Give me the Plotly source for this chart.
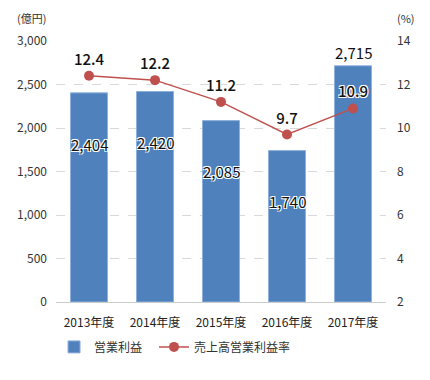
import plotly.graph_objects as go

categories = ["2013年度", "2014年度", "2015年度", "2016年度", "2017年度"]
operating_profit = [2404, 2420, 2085, 1740, 2715]
profit_margin = [12.4, 12.2, 11.2, 9.7, 10.9]
left_ticks = [0, 500, 1000, 1500, 2000, 2500, 3000]
right_ticks = [2, 4, 6, 8, 10, 12, 14]

FONT = "Noto Sans CJK JP"
BAR_COLOR = "#4f81bd"
LINE_COLOR = "#c0504d"
WHITE_OUTLINE = "1px 1px 0 #fff, -1px -1px 0 #fff, 1px -1px 0 #fff, -1px 1px 0 #fff"

fig = go.Figure()
fig.add_trace(go.Bar(
    x=categories, y=operating_profit, name="営業利益",
    marker=dict(color=BAR_COLOR, line=dict(color="#8db0dc", width=1)),
    yaxis="y", hoverinfo="skip", legend="legend",
))
fig.add_trace(go.Scatter(
    x=categories, y=profit_margin, name="売上高営業利益率",
    mode="lines+markers+text",
    line=dict(color=LINE_COLOR, width=1.5),
    marker=dict(color=LINE_COLOR, size=10),
    text=[f"{v:.1f}" for v in profit_margin],
    textposition="top center",
    textfont=dict(family=FONT, size=15, color="#111", weight=500, shadow=WHITE_OUTLINE),
    yaxis="y2", hoverinfo="skip", cliponaxis=False, legend="legend2",
))

# bar value labels
for i, (c, v) in enumerate(zip(categories, operating_profit)):
    if i == len(categories) - 1:
        ypos, anchor = v, "bottom"
    else:
        ypos, anchor = v - 590, "middle"
    fig.add_annotation(
        x=c, y=ypos, xref="x", yref="y", text=f"{v:,}", showarrow=False,
        yanchor=anchor, yshift=1 if anchor == "bottom" else 0,
        font=dict(family=FONT, size=15, color="#111", shadow=WHITE_OUTLINE),
    )

fig.add_annotation(x=-0.024, y=1.088, xref="paper", yref="paper", text="(億円)",
                   showarrow=False, xanchor="right", yanchor="middle",
                   font=dict(family=FONT, size=11, color="#333"))
fig.add_annotation(x=1.027, y=1.088, xref="paper", yref="paper", text="(%)",
                   showarrow=False, xanchor="left", yanchor="middle",
                   font=dict(family=FONT, size=11, color="#333"))

legend_common = dict(orientation="h", y=-0.172, xanchor="left", yanchor="middle",
                     font=dict(family=FONT, size=12, color="#333"),
                     itemwidth=30, bgcolor="rgba(0,0,0,0)")

fig.update_layout(
    width=430, height=380,
    margin=dict(l=56, r=44, t=41, b=78, autoexpand=False),
    paper_bgcolor="white", plot_bgcolor="white",
    font=dict(family=FONT, size=12, color="#333"),
    bargap=0.44,
    showlegend=True,
    legend=dict(x=-0.006, **legend_common),
    legend2=dict(x=0.297, **legend_common),
    xaxis=dict(showgrid=False, showline=True, linecolor="#ccc", linewidth=1,
               ticks="", ticklabelstandoff=10, tickfont=dict(size=12, color="#222")),
    yaxis=dict(range=[0, 3000], tickvals=left_ticks,
               ticktext=[f"{t:,}" for t in left_ticks],
               showgrid=True, gridcolor="#d9d9d9", griddash="dash",
               zeroline=False, showline=False, ticks="",
               ticklabelstandoff=8, tickfont=dict(size=12, color="#333")),
    yaxis2=dict(range=[2, 14], tickvals=right_ticks, overlaying="y", side="right",
                showgrid=False, zeroline=False, showline=False, ticks="",
                ticklabelstandoff=10, tickfont=dict(size=12, color="#333")),
)

fig.write_html("out.html", config={"displayModeBar": False},
               post_script="document.body.style.margin='0';")
